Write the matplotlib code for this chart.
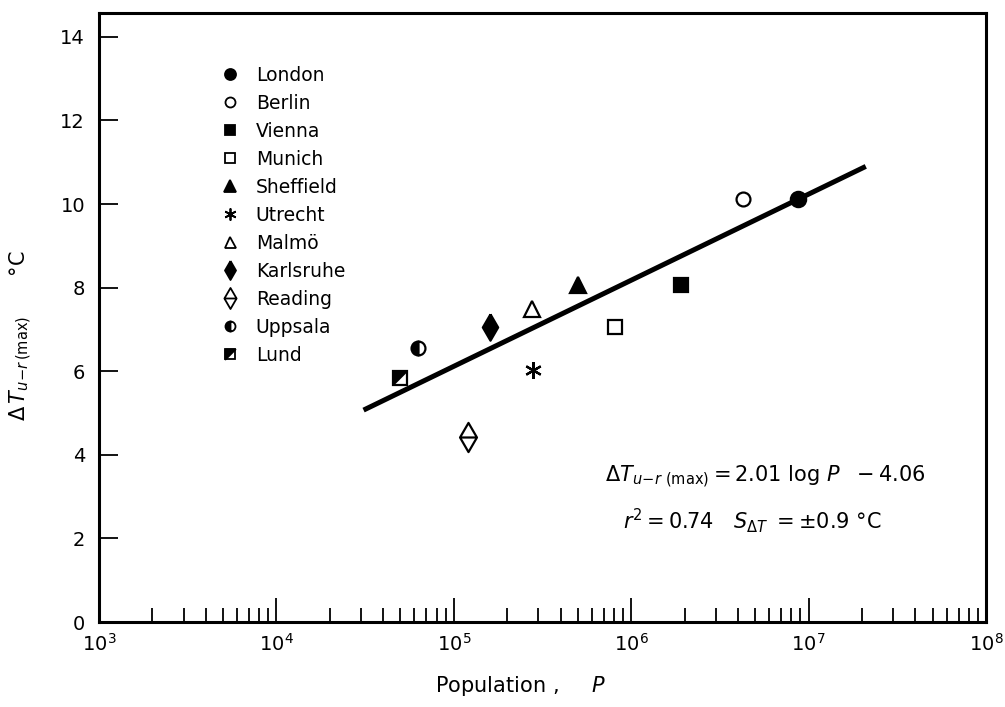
import matplotlib
matplotlib.use("Agg")
import matplotlib.pyplot as plt
import numpy as np
from matplotlib.path import Path
from matplotlib.lines import Line2D
from matplotlib.legend_handler import HandlerTuple
from matplotlib.ticker import LogLocator, NullFormatter, FixedLocator

plt.rcParams['font.family'] = ['DejaVu Sans']
plt.rcParams['mathtext.fontset'] = 'dejavusans'

# ---- data ----
cities = ["London", "Berlin", "Vienna", "Munich", "Sheffield", "Utrecht",
          "Malmö", "Karlsruhe", "Reading", "Uppsala", "Lund"]
population = [8.7e6, 4.27e6, 1.9e6, 8.1e5, 5.0e5, 2.8e5, 2.77e5, 1.6e5, 1.2e5, 6.3e4, 5.0e4]
delta_t = [10.12, 10.12, 8.06, 7.06, 8.06, 6.03, 7.49, 7.06, 4.43, 6.56, 5.84]

fit_x = [3.1e4, 2.1e7]
fit_y = [5.07, 10.9]

y_ticks = [0, 2, 4, 6, 8, 10, 12, 14]

# ---- marker shapes ----
thin_diamond = [(0, 1), (0.58, 0), (0, -1), (-0.58, 0), (0, 1)]
reading_path = Path(
    [(0, 1), (0.58, 0), (0, -1), (-0.58, 0), (0, 1), (-0.58, 0), (0.58, 0)],
    [Path.MOVETO, Path.LINETO, Path.LINETO, Path.LINETO, Path.CLOSEPOLY,
     Path.MOVETO, Path.LINETO])
lund_tri = [(-1, 1), (1, 1), (-1, -1), (-1, 1)]

K = 'black'
W = 'white'
styles = {
    "London":    [dict(marker='o', ms=11, mfc=K, mec=K)],
    "Berlin":    [dict(marker='o', ms=10, mfc=W, mec=K)],
    "Vienna":    [dict(marker='s', ms=10, mfc=K, mec=K)],
    "Munich":    [dict(marker='s', ms=9.5, mfc=W, mec=K)],
    "Sheffield": [dict(marker='^', ms=11.5, mfc=K, mec=K)],
    "Utrecht":   [dict(marker=(6, 2, 0), ms=12, mfc=K, mec=K)],
    "Malmö":     [dict(marker='^', ms=11, mfc=W, mec=K)],
    "Karlsruhe": [dict(marker=thin_diamond, ms=19, mfc=K, mec=K)],
    "Reading":   [dict(marker=reading_path, ms=21, mfc=W, mec=K)],
    "Uppsala":   [dict(marker='o', ms=10, mfc=K, mec=K, fillstyle='left',
                       markerfacecoloralt=W)],
    "Lund":      [dict(marker='s', ms=10, mfc=W, mec=K),
                  dict(marker=lund_tri, ms=10, mfc=K, mec=K, mew=0.5)],
}

fig = plt.figure(figsize=(10.05, 7.07), dpi=100)
ax = fig.add_axes([0.0985, 0.1202, 0.8826, 0.8614])

ax.set_xscale('log')
ax.set_xlim(1e3, 1e8)
ax.set_ylim(0, 14.57)

# regression line
ax.plot(fit_x, fit_y, color=K, lw=3.6, solid_capstyle='butt', zorder=2)

handles = []
for name, x, y in zip(cities, population, delta_t):
    hs = []
    for st in styles[name]:
        st = dict(st)
        mew = st.pop('mew', 1.6)
        ax.plot([x], [y], linestyle='none', mew=mew, zorder=3, **st)
        hs.append(Line2D([], [], linestyle='none', mew=1.3,
                         **{k: (v * 0.72 if k == 'ms' else v) for k, v in st.items()}))
    handles.append(tuple(hs) if len(hs) > 1 else hs[0])

leg = ax.legend(handles, cities, loc='upper left', bbox_to_anchor=(0.1375, 0.913),
                frameon=False, fontsize=13.5, handlelength=1.0, handletextpad=0.85,
                labelspacing=0.48, borderaxespad=0, borderpad=0,
                handler_map={tuple: HandlerTuple(ndivide=1, pad=0)})

# spines / ticks
for sp in ax.spines.values():
    sp.set_linewidth(2.2)
ax.xaxis.set_major_locator(LogLocator(base=10, numticks=10))
ax.xaxis.set_minor_locator(LogLocator(base=10, subs=np.arange(2, 10), numticks=20))
ax.xaxis.set_minor_formatter(NullFormatter())
ax.yaxis.set_major_locator(FixedLocator(y_ticks))
ax.tick_params(axis='x', which='major', direction='in', length=17, width=1.3,
               labelsize=14, pad=8, top=False)
ax.tick_params(axis='x', which='minor', direction='in', length=10, width=1.3, top=False)
ax.tick_params(axis='y', which='major', direction='in', length=14, width=1.3,
               labelsize=14, pad=10, right=False)
ax.tick_params(axis='y', which='minor', left=False, right=False)

ax.set_xlabel(r'Population ,     $P$', fontsize=15)
ax.xaxis.set_label_coords(0.475, -0.085)
ax.set_ylabel(r'$\Delta\,T_{u\!-\!r\,(\mathrm{max})}$' + '      °C', fontsize=15)
ax.yaxis.set_label_coords(-0.073, 0.47)

ax.text(0.751, 0.238,
        r'$\Delta T_{u\!-\!r\ (\mathrm{max})}$' + r'$=2.01\ \mathrm{log}\ P\ \ -4.06$',
        transform=ax.transAxes, ha='center', va='center', fontsize=15)
ax.text(0.737, 0.167,
        r'$r^{2}=0.74\ \ \ S_{\Delta T}\ =\pm 0.9\ °\mathrm{C}$',
        transform=ax.transAxes, ha='center', va='center', fontsize=15)

fig.savefig('out.png', dpi=100)
